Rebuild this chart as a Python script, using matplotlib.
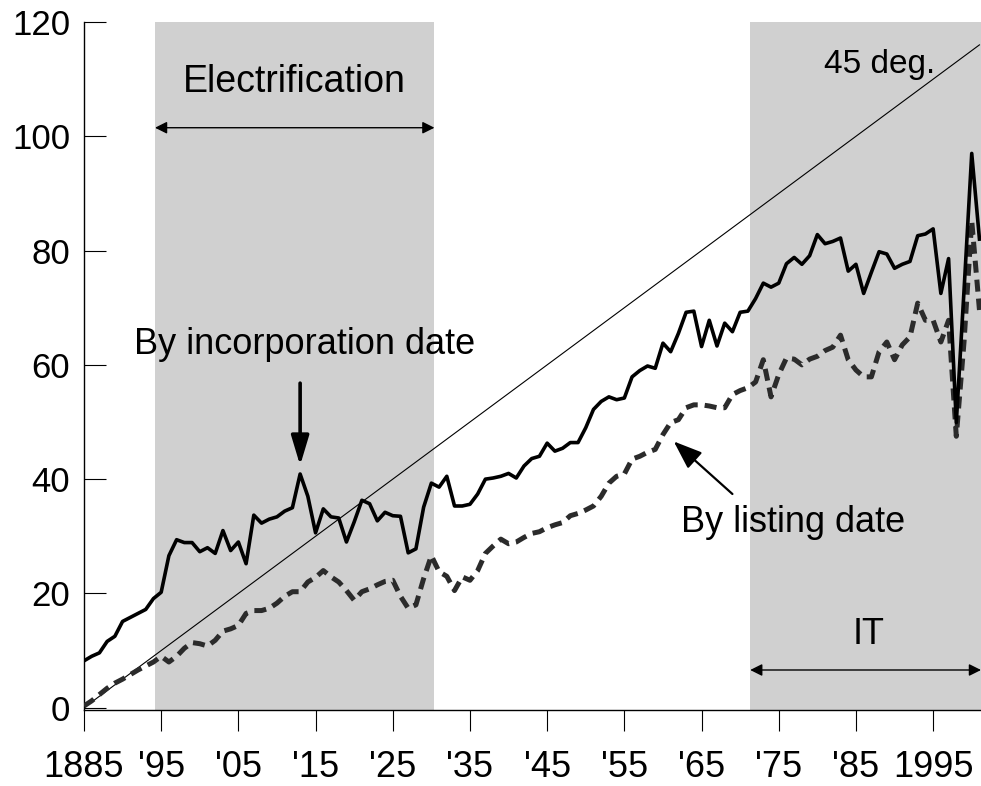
import numpy as np
import matplotlib as mpl
import matplotlib.pyplot as plt
from matplotlib import font_manager

# ---------------------------------------------------------------------------
# Data
# ---------------------------------------------------------------------------

YEARS = list(range(1885, 2002))

INCORPORATION = [
    8.2, 9.0, 9.6, 11.6, 12.5, 15.1, 15.8, 16.5, 17.2, 19.1,      # 1885-94
    20.2, 26.6, 29.4, 28.9, 28.9, 27.3, 28.0, 27.0, 31.0, 27.5,   # 1895-04
    29.0, 25.2, 33.7, 32.3, 33.0, 33.4, 34.4, 35.0, 40.9, 37.0,   # 1905-14
    30.6, 34.8, 33.4, 33.2, 29.0, 32.5, 36.3, 35.7, 32.7, 34.2,   # 1915-24
    33.6, 33.5, 27.1, 27.8, 35.1, 39.3, 38.6, 40.5, 35.3, 35.3,   # 1925-34
    35.6, 37.4, 40.0, 40.2, 40.5, 41.0, 40.2, 42.3, 43.6, 44.0,   # 1935-44
    46.3, 44.9, 45.4, 46.4, 46.4, 49.0, 52.2, 53.6, 54.4, 53.9,   # 1945-54
    54.2, 57.9, 59.0, 59.8, 59.4, 63.8, 62.3, 65.5, 69.2, 69.4,   # 1955-64
    63.2, 67.8, 63.3, 67.3, 65.8, 69.2, 69.4, 71.6, 74.3, 73.6,   # 1965-74
    74.3, 77.7, 78.8, 77.6, 79.1, 82.8, 81.2, 81.6, 82.2, 76.4,   # 1975-84
    77.6, 72.5, 76.2, 79.8, 79.4, 76.9, 77.6, 78.1, 82.6, 82.9,   # 1985-94
    83.8, 72.5, 78.6, 49.9, 73.0, 97.0, 82.0,                     # 1995-01
]

LISTING = [
    0.3, 1.2, 2.3, 3.4, 4.3, 5.0, 5.8, 6.6, 7.3, 8.0,             # 1885-94
    9.0, 8.0, 9.0, 10.4, 11.4, 11.2, 10.8, 11.8, 13.4, 13.8,      # 1895-04
    14.4, 16.5, 17.0, 17.0, 17.4, 18.3, 19.5, 20.3, 20.3, 22.0,   # 1905-14
    22.8, 24.0, 22.9, 22.0, 20.5, 18.8, 20.3, 20.8, 21.5, 22.1,   # 1915-24
    22.3, 19.5, 17.4, 18.0, 22.6, 26.6, 23.8, 23.0, 20.5, 22.9,   # 1925-34
    22.3, 24.0, 27.0, 28.3, 29.5, 28.7, 29.0, 29.8, 30.5, 30.8,   # 1935-44
    31.5, 32.0, 32.4, 33.6, 34.0, 34.6, 35.3, 37.0, 39.3, 40.5,   # 1945-54
    40.9, 43.5, 44.0, 44.7, 45.2, 47.8, 49.9, 50.4, 52.5, 53.0,   # 1955-64
    53.0, 52.8, 52.5, 52.5, 54.8, 55.5, 56.0, 57.0, 60.9, 54.4,   # 1965-74
    58.3, 61.2, 61.0, 60.0, 61.0, 61.5, 62.5, 63.1, 65.2, 60.9,   # 1975-84
    59.1, 57.9, 57.9, 62.3, 64.0, 60.9, 63.5, 64.9, 70.8, 67.8,   # 1985-94
    67.8, 64.0, 67.8, 47.5, 64.0, 85.2, 69.6,                     # 1995-01
]

DIAG_X = [1885, 2001]
DIAG_Y = [0, 116]

SHADED = [(1894.2, 1930.4), (1971.3, 2001.3)]

XTICKS = list(range(1885, 2000, 10))
XTICKLABELS = ['1885', "'95", "'05", "'15", "'25", "'35", "'45",
               "'55", "'65", "'75", "'85", '1995']
YTICKS = [0, 20, 40, 60, 80, 100, 120]


def _family(*names):
    have = {f.name for f in font_manager.fontManager.ttflist}
    fams = [n for n in names if n in have]
    return fams + ['DejaVu Sans']


SANS = _family('Liberation Sans', 'Arial')
NARROW = _family('Liberation Sans Narrow', 'Arial Narrow', 'Liberation Sans')


def main():
    mpl.rcParams['font.family'] = SANS
    fig = plt.figure(figsize=(9.81, 7.86), dpi=100)
    ax = fig.add_axes([0.0856, 0.0967, 0.9144, 0.8753])

    for x0, x1 in SHADED:
        ax.axvspan(x0, x1, color='#d0d0d0', lw=0, zorder=0)

    ax.plot(DIAG_X, DIAG_Y, color='black', lw=0.8, zorder=2)
    ax.plot(YEARS, LISTING, color='#2b2b2b', lw=3.6,
            ls=(0, (2.4, 1.4)), zorder=3)
    ax.plot(YEARS, INCORPORATION, color='black', lw=2.6, zorder=4)

    ax.set_xlim(1885, 2001.2)
    ax.set_ylim(-0.4, 120)

    ax.set_xticks(XTICKS)
    ax.set_xticklabels(XTICKLABELS, family=NARROW, fontsize=26)
    ax.set_yticks(YTICKS)
    ax.tick_params(axis='y', direction='in', length=16, width=0.8,
                   labelsize=25, pad=10)
    ax.tick_params(axis='x', direction='out', length=15, width=0.8, pad=14)
    for side in ('top', 'right'):
        ax.spines[side].set_visible(False)
    for side in ('left', 'bottom'):
        ax.spines[side].set_linewidth(1.0)

    # Annotations
    ax.annotate('', xy=(1894.2, 101.5), xytext=(1930.4, 101.5),
                arrowprops=dict(arrowstyle='<|-|>', color='black', lw=1.0,
                                mutation_scale=18, shrinkA=0, shrinkB=0))
    ax.text(1912.3, 109.5, 'Electrification', ha='center', va='center',
            fontsize=27)

    ax.annotate('', xy=(1971.3, 6.6), xytext=(2001.2, 6.6),
                arrowprops=dict(arrowstyle='<|-|>', color='black', lw=1.0,
                                mutation_scale=18, shrinkA=0, shrinkB=0))
    ax.text(1986.6, 12.8, 'IT', ha='center', va='center', fontsize=26)

    ax.text(1988.1, 112.6, '45 deg.', ha='center', va='center', fontsize=24)

    ax.annotate('', xy=(1913.0, 42.4), xytext=(1913.0, 56.8),
                arrowprops=dict(arrowstyle='-|>,head_length=0.9,head_width=0.27',
                                color='black', lw=2.6, mutation_scale=20,
                                shrinkA=0, shrinkB=0))
    ax.text(1913.6, 63.5, 'By incorporation date', ha='center', va='center',
            fontsize=26)

    ax.annotate('', xy=(1961.4, 46.6), xytext=(1969.0, 37.4),
                arrowprops=dict(arrowstyle='-|>,head_length=0.8,head_width=0.3',
                                color='black', lw=1.6, mutation_scale=22,
                                shrinkA=0, shrinkB=0))
    ax.text(1976.8, 32.4, 'By listing date', ha='center', va='center',
            fontsize=26)

    fig.savefig('out.png', dpi=100)
    plt.close(fig)


if __name__ == '__main__':
    main()
